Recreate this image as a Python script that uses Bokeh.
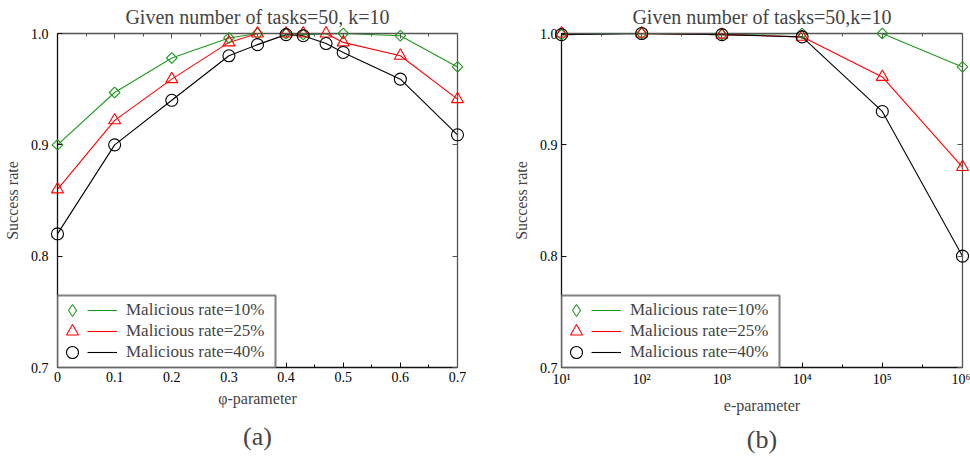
from bokeh.plotting import figure
from bokeh.layouts import row
from bokeh.models import (FixedTicker, LinearAxis, LogAxis, Legend, LegendItem, Title, Range1d,
                          CustomLabelingPolicy, BoxAnnotation)
from bokeh.embed import file_html
from bokeh.resources import INLINE

# ---------------- data ----------------
phi_green = [0, 0.1, 0.2, 0.3, 0.35, 0.4, 0.43, 0.5, 0.6, 0.7]
phi_rate10 = [0.900, 0.947, 0.978, 0.996, 1.000, 1.000, 0.999, 1.000, 0.998, 0.970]
phi_all = [0, 0.1, 0.2, 0.3, 0.35, 0.4, 0.43, 0.47, 0.5, 0.6, 0.7]
phi_rate25 = [0.860, 0.922, 0.959, 0.992, 1.000, 1.000, 1.000, 1.000, 0.992, 0.980, 0.941]
phi_rate40 = [0.820, 0.900, 0.940, 0.980, 0.990, 0.999, 0.998, 0.991, 0.983, 0.959, 0.909]

e_vals = [1e1, 1e2, 1e3, 1e4, 1e5, 1e6]
e_rate10 = [0.999, 1.000, 0.999, 1.000, 1.000, 0.970]
e_rate25 = [1.000, 1.000, 0.999, 0.997, 0.961, 0.880]
e_rate40 = [0.999, 1.000, 0.999, 0.997, 0.930, 0.800]

phi_ticks = [0, 0.1, 0.2, 0.3, 0.4, 0.5, 0.6, 0.7]
phi_tick_labels = ["0", "0.1", "0.2", "0.3", "0.4", "0.5", "0.6", "0.7"]
phi_minor = [0.05, 0.15, 0.25, 0.35, 0.45, 0.55, 0.65]
e_ticks = [1e1, 1e2, 1e3, 1e4, 1e5, 1e6]
e_tick_labels = ["10\u00b9", "10\u00b2", "10\u00b3", "10\u2074", "10\u2075", "10\u2076"]
e_minor = [10 ** 1.5, 10 ** 2.5, 10 ** 3.5, 10 ** 4.5, 10 ** 5.5]
y_ticks = [0.7, 0.8, 0.9, 1.0]
y_tick_labels = ["0.7", "0.8", "0.9", "1.0"]

labels = ["Malicious rate=10%", "Malicious rate=25%", "Malicious rate=40%"]
colors = ["#1f9a1f", "#ff0000", "#000000"]

SERIF = "'Liberation Serif', 'Times New Roman', serif"


def style_axis(ax, ticker, tick_labels, show_labels, standoff, line_color):
    ax.ticker = ticker
    ax.major_tick_in = 5
    ax.major_tick_out = 0
    ax.minor_tick_in = 3
    ax.minor_tick_out = 0
    ax.axis_line_color = line_color
    ax.major_tick_line_color = line_color
    ax.minor_tick_line_color = line_color
    ax.axis_line_width = 1.3
    ax.major_label_text_font = SERIF
    ax.major_label_text_color = "#000000"
    if show_labels:
        ax.major_label_overrides = {t: l for t, l in zip(ticker.ticks, tick_labels)}
        ax.major_label_text_font_size = "14px"
        ax.major_label_standoff = standoff
    else:
        ax.major_label_text_font_size = "1px"
        ax.major_label_standoff = 0
        ax.major_label_policy = CustomLabelingPolicy(code="return new Set()")
        ax.axis_label = None


def row_legend(item, x, y, glyph_w, standoff, label_w):
    return Legend(items=[item], location=(x, y), margin=0, padding=0, spacing=0,
                  glyph_width=glyph_w, glyph_height=30, label_height=20, label_width=label_w,
                  label_standoff=standoff, label_text_font=SERIF, label_text_font_size="17px",
                  border_line_color=None, background_fill_alpha=0.0, inactive_fill_alpha=0.0)


def make_fig(xs_list, ys_list, x_type, x_range, xticks, xlabels, xminor, xlabel,
             title, sub, border_left, border_right, ylab_standoff, xlab_standoff, sub_standoff):
    p = figure(width=485, height=460, x_axis_type=x_type, x_range=x_range,
               y_range=Range1d(0.7, 1.0), output_backend="svg", toolbar_location=None,
               min_border_left=border_left, min_border_right=border_right,
               min_border_top=33, min_border_bottom=93)
    p.grid.visible = False
    p.outline_line_color = None
    p.background_fill_color = "white"
    p.border_fill_color = "white"

    p.title.text = title
    p.title.text_font = SERIF
    p.title.text_font_size = "20px"
    p.title.text_font_style = "normal"
    p.title.align = "center"
    p.title.standoff = 4

    xt = FixedTicker(ticks=xticks, minor_ticks=xminor)
    yt = FixedTicker(ticks=y_ticks, minor_ticks=[])

    style_axis(p.xaxis[0], xt, xlabels, True, 4, "#111111")
    style_axis(p.yaxis[0], yt, y_tick_labels, True, ylab_standoff, "#111111")
    p.xaxis[0].axis_label = xlabel
    p.yaxis[0].axis_label = "Success rate"
    for ax in (p.xaxis[0], p.yaxis[0]):
        ax.axis_label_text_font = SERIF
        ax.axis_label_text_font_size = "16px"
        ax.axis_label_text_font_style = "normal"
    p.xaxis[0].axis_label_standoff = xlab_standoff
    p.yaxis[0].axis_label_standoff = 7

    top = LogAxis() if x_type == "log" else LinearAxis()
    style_axis(top, FixedTicker(ticks=xticks, minor_ticks=xminor), xlabels, False, 0, "#555555")
    p.add_layout(top, "above")
    right = LinearAxis()
    style_axis(right, FixedTicker(ticks=y_ticks, minor_ticks=[]), y_tick_labels, False, 0, "#555555")
    p.add_layout(right, "right")

    markers = [dict(marker="square", size=7.5, angle=0.785398),
               dict(marker="triangle", size=12, angle=0),
               dict(marker="circle", size=12, angle=0)]
    line_rs, mark_rs = [], []
    for xs, ys, c, m in zip(xs_list, ys_list, colors, markers):
        lr = p.line(xs, ys, line_color=c, line_width=1.1)
        sr = p.scatter(xs, ys, marker=m["marker"], size=m["size"], angle=m["angle"],
                       line_color=c, fill_color=None, line_width=1.1, level="overlay")
        line_rs.append(lr)
        mark_rs.append(sr)
    # legend proxy for the diamond symbol (legend glyphs are drawn unrotated)
    proxy = p.scatter(xs_list[0], ys_list[0], marker="diamond", size=12, line_color=colors[0],
                      fill_color=None, line_width=1.1, visible=False)
    leg_marks = [proxy, mark_rs[1], mark_rs[2]]

    # legend frame
    p.add_layout(BoxAnnotation(left=0, right=218, bottom=0, top=72,
                               left_units="screen", right_units="screen",
                               bottom_units="screen", top_units="screen",
                               fill_color="white", fill_alpha=1.0,
                               line_color="#808080", line_alpha=1.0, line_width=2,
                               line_dash="solid"))
    row_y = [42, 21, 0]
    for k in range(3):
        p.add_layout(row_legend(LegendItem(label=labels[k], renderers=[leg_marks[k]]),
                                0, row_y[k], 30, 39, 150), "center")
        p.add_layout(row_legend(LegendItem(label=" ", renderers=[line_rs[k]]),
                                30, row_y[k], 30, 0, 0), "center")

    p.add_layout(Title(text=sub, align="center", text_font=SERIF, text_font_size="26px",
                       text_font_style="normal", standoff=sub_standoff), "below")
    return p


p1 = make_fig([phi_green, phi_all, phi_all], [phi_rate10, phi_rate25, phi_rate40],
              "linear", Range1d(0, 0.7), phi_ticks, phi_tick_labels, phi_minor,
              "\u03c6-parameter", "Given number of tasks=50, k=10", "(a)", 56, 28, 9, 5, 20)
p2 = make_fig([e_vals, e_vals, e_vals], [e_rate10, e_rate25, e_rate40],
              "log", Range1d(1e1, 1e6), e_ticks, e_tick_labels, e_minor,
              "e-parameter", "Given number of tasks=50,k=10", "(b)", 76, 8, 4, 7, 12)

layout = row(p1, p2)
open("out.html", "w").write(file_html(layout, INLINE))
